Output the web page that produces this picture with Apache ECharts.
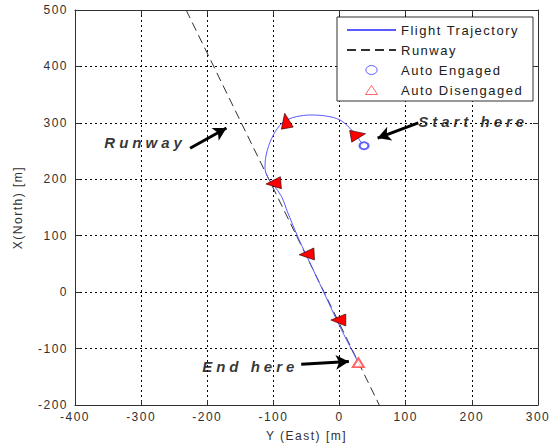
<!DOCTYPE html>
<html>
<head>
<meta charset="utf-8">
<script src="https://cdn.jsdelivr.net/npm/echarts@6/dist/echarts.min.js"></script>
<style>
  html, body { margin: 0; padding: 0; background: #fff; }
  #chart { width: 551px; height: 447px; }
  #chart text { letter-spacing: 1.5px; }
  #chart text[style*="italic"] { letter-spacing: 4px; }
</style>
</head>
<body>
<div id="chart"></div>
<script>
// Axis limits (m)
const eastMin = -400, eastMax = 300, eastStep = 100;
const northMin = -200, northMax = 500, northStep = 100;

// Flight trajectory, east / north positions (m)
const trajEast  = [37, 31, 26.9, 15.8, 0.7, -20, -44.7, -65, -78, -90, -102.6, -111, -112.7, -107.7, -100, -88, -78, -62, -40, -20, 3, 28.4];
const trajNorth = [259.5, 268, 275.5, 290.4, 305, 312, 313.9, 311, 306, 296, 272.6, 243, 219.5, 201.7, 190, 170, 140, 95, 40, -10, -67, -125];

// Runway centre line
const runwayEast  = [-232, 60];
const runwayNorth = [500, -200];

// Autopilot engage / disengage points
const engagedAt    = [37, 259.5];
const disengagedAt = [28.4, -125];

// Heading markers along the path (position and heading angle, deg)
const headingEast  = [28, -81, -100, -49.7, -1.9];
const headingNorth = [278.5, 303.8, 192.8, 67, -49.4];
const headingAngle = [-80, 10, 95, 93, 90];

// Callouts: text anchor and arrow from/to
const noteText       = ['Runway', 'Start here', 'End here'];
const noteEast       = [-294, 202, -135];
const noteNorth      = [266, 303, -131];
const arrowFromEast  = [-226, 119, -58];
const arrowFromNorth = [255, 300, -128];
const arrowToEast    = [-171, 57.5, 14];
const arrowToNorth   = [291, 273, -123];

const FONT = 'Liberation Sans, Arial, sans-serif';
const TRAJ_COLOR = '#5a5aff';
const RUNWAY_COLOR = '#303030';
const ENGAGED_COLOR = '#3a3aff';
const DISENGAGED_COLOR = '#ff4040';
const zip = (a, b) => a.map((v, i) => [v, b[i]]);

const chart = echarts.init(document.getElementById('chart'), null, { renderer: 'svg' });

const axisLine = { show: true, onZero: false, lineStyle: { color: '#303030', width: 1 } };
const axisTick = { show: true, inside: true, length: 5, lineStyle: { color: '#303030' } };
const gridLine = { show: true, lineStyle: { color: '#000', width: 1, type: [2, 3] } };
const tickText = { fontFamily: FONT, fontSize: 12, color: '#303030' };

chart.setOption({
  animation: false,
  backgroundColor: '#fff',
  grid: { left: 75, right: 13, top: 10, bottom: 42, containLabel: false },
  xAxis: [
    {
      type: 'value', min: eastMin, max: eastMax, interval: eastStep, position: 'bottom',
      axisLine, axisTick, splitLine: gridLine,
      axisLabel: Object.assign({ margin: 6 }, tickText),
      name: 'Y (East) [m]', nameLocation: 'middle', nameGap: 25,
      nameTextStyle: { fontFamily: FONT, fontSize: 12, color: '#303030' }
    },
    {
      type: 'value', min: eastMin, max: eastMax, interval: eastStep, position: 'top',
      axisLine, axisTick, splitLine: { show: false }, axisLabel: { show: false }
    }
  ],
  yAxis: [
    {
      type: 'value', min: northMin, max: northMax, interval: northStep, position: 'left',
      axisLine, axisTick, splitLine: gridLine,
      axisLabel: Object.assign({ margin: 7 }, tickText),
      name: 'X(North) [m]', nameLocation: 'middle', nameGap: 51,
      nameTextStyle: { fontFamily: FONT, fontSize: 12, color: '#303030' }
    },
    {
      type: 'value', min: northMin, max: northMax, interval: northStep, position: 'right',
      axisLine, axisTick, splitLine: { show: false }, axisLabel: { show: false }
    }
  ],
  legend: {
    data: [
      { name: 'Flight Trajectory', itemStyle: { opacity: 0 } },
      { name: 'Runway', itemStyle: { opacity: 0 } },
      { name: 'Auto Engaged', icon: 'path://M0,4A5,4 0 1 0 10,4A5,4 0 1 0 0,4Z',
        itemStyle: { color: '#fff', borderColor: ENGAGED_COLOR, borderWidth: 1 } },
      {
        name: 'Auto Disengaged', icon: 'path://M6,0L12,9L0,9Z',
        itemStyle: { color: '#fff', borderColor: DISENGAGED_COLOR, borderWidth: 1 }
      }
    ],
    orient: 'vertical', left: 337, top: 17,
    padding: [6, 11, 4, 9], itemGap: 6, itemWidth: 49, itemHeight: 9,
    backgroundColor: '#fff', borderColor: '#303030', borderWidth: 1, borderRadius: 0,
    selectedMode: false, symbolKeepAspect: true,
    textStyle: { fontFamily: FONT, fontSize: 13, color: '#202020', width: 121, lineHeight: 14 }
  },
  series: [
    {
      name: 'Runway', type: 'line', data: zip(runwayEast, runwayNorth),
      symbol: 'none', z: 2,
      itemStyle: { color: RUNWAY_COLOR },
      lineStyle: { color: RUNWAY_COLOR, width: 1, type: [9, 5] }
    },
    {
      name: 'Flight Trajectory', type: 'line', data: zip(trajEast, trajNorth),
      symbol: 'none', smooth: 0.35, z: 3,
      itemStyle: { color: TRAJ_COLOR },
      lineStyle: { color: TRAJ_COLOR, width: 1 }
    },
    {
      name: 'heading', type: 'scatter', z: 4, silent: true,
      data: headingEast.map((e, i) => ({ value: [e, headingNorth[i]], symbolRotate: headingAngle[i] })),
      symbol: 'triangle', symbolSize: [12, 15],
      itemStyle: { color: '#ff0000', borderColor: '#2a0000', borderWidth: 0.6, opacity: 1 }
    },
    {
      name: 'Auto Engaged', type: 'scatter', z: 5,
      data: [engagedAt], symbol: 'emptyCircle', symbolSize: [9, 7],
      itemStyle: { color: ENGAGED_COLOR, borderWidth: 1 }
    },
    {
      name: 'Auto Disengaged', type: 'scatter', z: 5,
      data: [disengagedAt], symbol: 'emptyTriangle', symbolSize: [11, 9],
      itemStyle: { color: DISENGAGED_COLOR, borderWidth: 1 }
    },
    {
      name: 'notes', type: 'scatter', z: 6, silent: true,
      data: noteText.map((t, i) => ({ name: t, value: [noteEast[i], noteNorth[i]] })),
      symbol: 'circle', symbolSize: 1,
      itemStyle: { color: 'rgba(0,0,0,0)' },
      label: {
        show: true, position: 'inside', formatter: '{b}',
        fontFamily: FONT, fontSize: 15, fontStyle: 'italic', fontWeight: 'bold', color: '#000'
      },
      markLine: {
        silent: true, symbol: ['none', 'arrow'], symbolSize: [11, 13],
        label: { show: false },
        lineStyle: { color: '#000', width: 3, type: 'solid' },
        emphasis: { disabled: true },
        data: arrowFromEast.map((e, i) => [
          { coord: [e, arrowFromNorth[i]] },
          { coord: [arrowToEast[i], arrowToNorth[i]] }
        ])
      }
    }
  ]
});
</script>
</body>
</html>
